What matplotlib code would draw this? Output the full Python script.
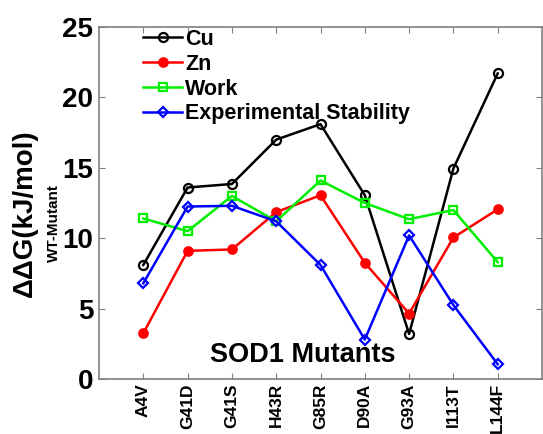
import matplotlib
matplotlib.use("Agg")
import matplotlib.pyplot as plt

mutants = ["A4V", "G41D", "G41S", "H43R", "G85R", "D90A", "G93A", "I113T", "L144F"]
cu = [8.1, 13.6, 13.85, 17.0, 18.1, 13.05, 3.2, 14.95, 21.7]
zn = [3.25, 9.1, 9.2, 11.85, 13.05, 8.25, 4.65, 10.05, 12.05]
work = [11.4, 10.5, 13.0, 11.2, 14.1, 12.5, 11.35, 12.0, 8.3]
exp_stab = [6.8, 12.25, 12.3, 11.2, 8.1, 2.8, 10.2, 5.25, 1.05]
yticks = [0, 5, 10, 15, 20, 25]

plt.rcParams['font.family'] = ['Liberation Sans', 'DejaVu Sans']

fig = plt.figure(figsize=(5.43, 4.34), dpi=100)
ax = fig.add_axes([99/543, 1-379/434, 443/543, (379-27)/434])

x = list(range(1, len(mutants) + 1))
lw = 1.8
ax.plot(x, cu, color='black', lw=lw, marker='o', ms=6.5, mfc='none', mew=1.6, label='Cu')
ax.plot(x, zn, color='red', lw=lw, marker='o', ms=6.5, mfc='red', mew=1.2, label='Zn')
ax.plot(x, work, color='#00ee00', lw=lw, marker='s', ms=5.5, mfc='none', mew=1.6, label='Work')
ax.plot(x, exp_stab, color='blue', lw=lw, marker='D', ms=5.5, mfc='none', mew=1.6, label='Experimental Stability')

ax.set_xlim(0, 10)
ax.set_ylim(0, 25)
ax.set_xticks(x)
ax.set_xticklabels(mutants, rotation=90, fontsize=12.5, fontweight='bold')
ax.set_yticks(yticks)
ax.set_yticklabels([str(v) for v in yticks], fontsize=20, fontweight='bold')
ax.tick_params(direction='in', top=True, right=True, length=4, width=0.8, color='#808080', pad=4)
ax.tick_params(axis='x', pad=3)
for s in ax.spines.values():
    s.set_color('#808080')
    s.set_linewidth(1.2)

leg = ax.legend(loc='upper left', bbox_to_anchor=(0.1, 0.995), frameon=False,
                borderpad=0, borderaxespad=0, handlelength=1.8, handletextpad=0.15,
                labelspacing=0.18, prop={'weight': 'bold', 'size': 15.5})

ax.text(0.46, 0.03, 'SOD1 Mutants', transform=ax.transAxes, ha='center', va='bottom',
        fontsize=19.5, fontweight='bold')

fig.text(25/543, 1-213/434, 'ΔΔG(kJ/mol)', rotation=90, ha='center', va='center',
         fontsize=20, fontweight='bold')
fig.text(54/543, 1-223/434, 'WT-Mutant', rotation=90, ha='center', va='center',
         fontsize=11, fontweight='bold')

fig.savefig('out.png', dpi=100)
